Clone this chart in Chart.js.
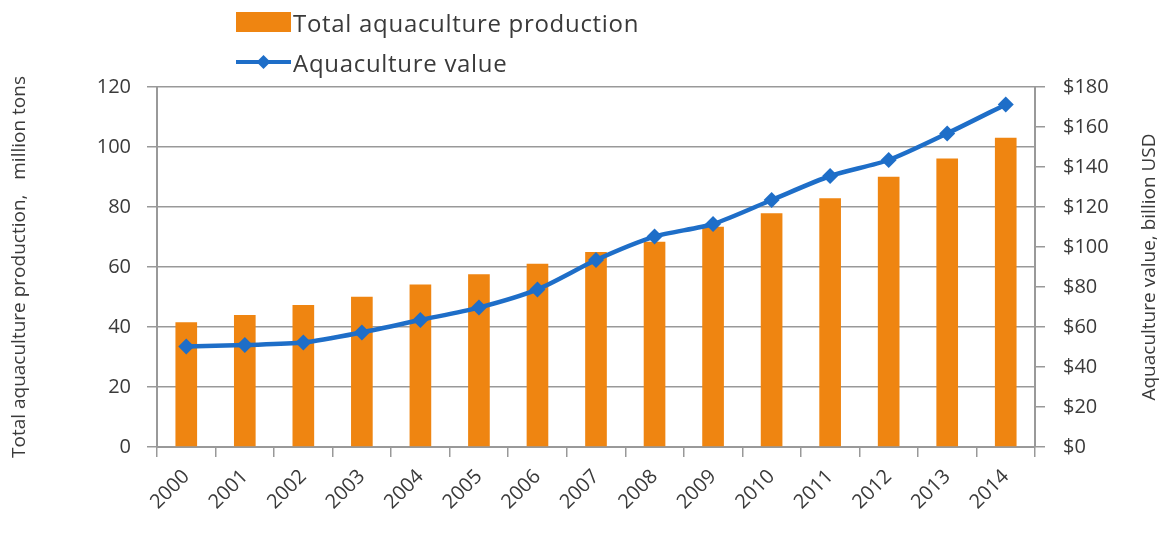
<!DOCTYPE html>
<html>
<head>
<meta charset="utf-8">
<script src="https://cdn.jsdelivr.net/npm/chart.js@4/dist/chart.umd.min.js"></script>
<style>
  html, body { margin: 0; padding: 0; background: #fff; }
  #wrap { position: relative; width: 1164px; height: 534px; }
  #legend { position: absolute; left: 236px; top: 2px; font-family: "Open Sans", sans-serif; font-size: 24px; letter-spacing: 0.7px; color: #3a3a3a; }
  .item { display: flex; align-items: center; height: 40px; }
  .sw { width: 55px; height: 20px; margin-right: 2px; display: flex; align-items: center; justify-content: center; }
</style>
</head>
<body>
<div id="wrap">
  <canvas id="c" width="1164" height="534"></canvas>
  <div id="legend"></div>
</div>
<script>
const years = ['2000','2001','2002','2003','2004','2005','2006','2007','2008','2009','2010','2011','2012','2013','2014'];
const production = [41.6, 44.0, 47.3, 50.1, 54.2, 57.6, 61.1, 65.0, 68.4, 73.4, 77.9, 82.9, 90.1, 96.2, 103.1];
const value = [50.2, 51.0, 52.2, 57.3, 63.5, 69.7, 78.8, 93.5, 105.2, 111.5, 123.5, 135.5, 143.5, 156.8, 171.3];
const seriesNames = ['Total aquaculture production', 'Aquaculture value'];
const leftAxisTitle = 'Total aquaculture production,   million tons';
const rightAxisTitle = 'Aquaculture value, billion USD';

const ORANGE = '#EF8511';
const BLUE = '#1E6EC8';
const GRID = '#999999';
const TXT = '#3a3a3a';
const FONT = '"Open Sans", sans-serif';

const rightTitlePlugin = {
  id: 'rightTitle',
  afterDraw(chart) {
    const ctx = chart.ctx, a = chart.chartArea;
    ctx.save();
    ctx.translate(1150, (a.top + a.bottom) / 2);
    ctx.rotate(-Math.PI / 2);
    ctx.font = '19px ' + FONT;
    ctx.fillStyle = TXT;
    ctx.textAlign = 'center';
    ctx.textBaseline = 'middle';
    ctx.fillText(rightAxisTitle, 0, 0);
    ctx.restore();
  }
};

const chart = new Chart(document.getElementById('c'), {
  data: {
    labels: years,
    datasets: [
      {
        type: 'line', label: seriesNames[1], data: value, yAxisID: 'y1',
        borderColor: BLUE, backgroundColor: BLUE, borderWidth: 4.5,
        pointStyle: 'rectRot', pointRadius: 8, pointBorderWidth: 0,
        tension: 0.25, order: 0
      },
      {
        type: 'bar', label: seriesNames[0], data: production, yAxisID: 'y',
        backgroundColor: ORANGE, categoryPercentage: 1, barPercentage: 0.37, order: 1
      }
    ]
  },
  plugins: [rightTitlePlugin],
  options: {
    responsive: false, animation: false,
    layout: { padding: { top: 87, left: 6, right: 0, bottom: 0 } },
    plugins: { legend: { display: false }, tooltip: { enabled: false } },
    scales: {
      x: {
        offset: true,
        grid: { offset: true, drawOnChartArea: false, drawTicks: true, tickLength: 10, color: GRID, lineWidth: 1.5 },
        border: { color: GRID, width: 2 },
        ticks: { minRotation: 45, maxRotation: 45, color: TXT, font: { family: FONT, size: 20 }, padding: 8 },
        afterFit: s => { s.height = 87; }
      },
      y: {
        position: 'left', min: 0, max: 120,
        ticks: { stepSize: 20, color: TXT, font: { family: FONT, size: 20 }, padding: 16 },
        grid: { color: GRID, lineWidth: 1.5, tickLength: 10 },
        border: { color: GRID, width: 2 },
        title: { display: true, text: leftAxisTitle, color: TXT, font: { family: FONT, size: 19 }, padding: { top: 2, bottom: 2 } },
        afterFit: s => { s.width = 151; }
      },
      y1: {
        position: 'right', min: 0, max: 180,
        ticks: { stepSize: 20, color: TXT, font: { family: FONT, size: 20 }, padding: 18, callback: v => '$' + v },
        grid: { drawOnChartArea: false, color: GRID, lineWidth: 1.5, tickLength: 10 },
        border: { color: GRID, width: 2 },
        afterFit: s => { s.width = 129; }
      }
    }
  }
});

// HTML legend built from dataset labels
const legend = document.getElementById('legend');
const barSw = `<svg width="55" height="20"><rect x="0" y="0" width="55" height="20" fill="${ORANGE}"/></svg>`;
const lineSw = `<svg width="55" height="20"><line x1="0" y1="10" x2="55" y2="10" stroke="${BLUE}" stroke-width="4"/><polygon points="27.5,3 34.5,10 27.5,17 20.5,10" fill="${BLUE}"/></svg>`;
[[seriesNames[0], barSw], [seriesNames[1], lineSw]].forEach(([name, sw]) => {
  const d = document.createElement('div');
  d.className = 'item';
  d.innerHTML = `<span class="sw">${sw}</span><span></span>`;
  d.lastChild.textContent = name;
  legend.appendChild(d);
});
</script>
</body>
</html>
